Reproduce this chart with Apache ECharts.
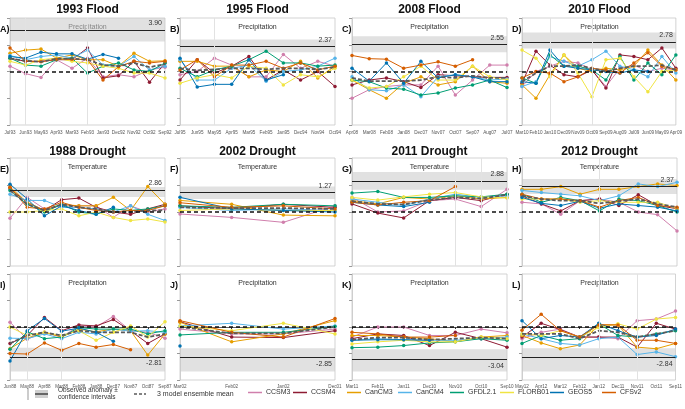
<!DOCTYPE html>
<html>
<head>
<meta charset="utf-8">
<script src="https://cdn.jsdelivr.net/npm/echarts@6/dist/echarts.min.js"></script>
<style>
  html, body { margin: 0; padding: 0; background: #fff; }
  #chart { width: 685px; height: 409px; }
</style>
</head>
<body>
<div id="chart"></div>
<script>
var models = ['CCSM3', 'CCSM4', 'CanCM3', 'CanCM4', 'GFDL2.1', 'FLORB01', 'GEOS5', 'CFSv2'];
var meanName = '3 model ensemble mean';

var titles = ['1993 Flood', '1995 Flood', '2008 Flood', '2010 Flood',
              '1988 Drought', '2002 Drought', '2011 Drought', '2012 Drought'];
var panelLetters = ['A)', 'B)', 'C)', 'D)', 'E)', 'F)', 'G)', 'H)', 'I)', 'J)', 'K)', 'L)'];
var variables = ['Precipitation', 'Precipitation', 'Precipitation', 'Precipitation',
                 'Temperature', 'Temperature', 'Temperature', 'Temperature',
                 'Precipitation', 'Precipitation', 'Precipitation', 'Precipitation'];

// x categories (lead months)
var catA = ['Jul93', 'Jun93', 'May93', 'Apr93', 'Mar93', 'Feb93', 'Jan93', 'Dec92', 'Nov92', 'Oct92', 'Sep92'];
var catB = ['Jul95', 'Jun95', 'May95', 'Apr95', 'Mar95', 'Feb95', 'Jan95', 'Dec94', 'Nov94', 'Oct94'];
var catC = ['Apr08', 'Mar08', 'Feb08', 'Jan08', 'Dec07', 'Nov07', 'Oct07', 'Sep07', 'Aug07', 'Jul07'];
var catD = ['Mar10', 'Feb10', 'Jan10', 'Dec09', 'Nov09', 'Oct09', 'Sep09', 'Aug09', 'Jul09', 'Jun09', 'May09', 'Apr09'];
var cat1988 = ['Jun88', 'May88', 'Apr88', 'Mar88', 'Feb88', 'Jan88', 'Dec87', 'Nov87', 'Oct87', 'Sep87'];
var cat2002 = ['Mar02', 'Feb02', 'Jan02', 'Dec01'];
var cat2011 = ['Mar11', 'Feb11', 'Jan11', 'Dec10', 'Nov10', 'Oct10', 'Sep10'];
var cat2012 = ['May12', 'Apr12', 'Mar12', 'Feb12', 'Jan12', 'Dec11', 'Nov11', 'Oct11', 'Sep11'];

// rows: CCSM3, CCSM4, CanCM3, CanCM4, GFDL2.1, FLORB01, GEOS5, CFSv2, ensemble mean
var panelA = [
  [0.5, -0.2, -0.55, 1.1, 0.3, 1.25, -0.5, -0.3, -0.5, 0.15, 0.4],
  [1.25, 0.95, 0.95, 1.1, 1.1, 2.2, -0.6, -0.4, 0.95, -1.0, 0.8],
  [1.7, 2.0, 2.1, 1.25, 1.55, 1.1, 1.1, 0.5, 1.7, 0.95, 1.0],
  [1.5, 1.1, 1.4, 1.55, 1.25, 2.0, 0.6, 0.5, 1.4, 0.15, 0.5],
  [1.25, 0.6, 0.5, 1.1, 1.25, -0.15, 0.5, 0.8, 0.15, 0.0, 0.8],
  [0.95, 0.6, 1.1, 1.25, 0.95, 0.8, 0.5, 0.3, -0.15, -0.15, -0.6],
  [1.4, 1.25, 1.8, 1.65, 1.65, 1.15, 1.6, 1.25, null, null, null],
  [2.2, 1.0, 0.9, 1.15, 1.15, 1.1, -0.8, 0.45, 0.95, 0.8, 0.95],
  [1.2, 1.0, 0.9, 1.2, 1.2, 1.1, 0.6, 0.5, 0.8, 0.4, 0.7]
];
var panelB = [
  [-0.3, 0.0, 1.25, 0.6, -0.5, -0.5, 1.6, 0.3, 0.95, 0.5],
  [-0.8, 1.1, -0.15, 0.5, 1.4, -0.8, 0.15, -0.8, 0.0, -1.4],
  [0.95, 0.95, 0.5, 0.5, -0.5, 0.15, 0.0, 0.95, -0.6, 0.5],
  [1.1, -0.8, -0.8, 0.3, 0.6, -0.9, 0.0, 0.15, 0.5, 1.25],
  [0.3, -0.5, 0.15, 0.5, 1.1, 1.9, 0.8, 0.8, 0.5, 0.6],
  [-1.1, -0.6, -0.3, -0.6, 0.5, 0.3, -1.25, -0.3, -0.5, 0.3],
  [1.25, -1.45, -1.2, -1.2, 1.1, -0.8, -0.3, null, null, null],
  [0.15, 1.1, -0.5, 0.6, 0.6, 0.95, 0.3, 0.8, 0.15, 0.5],
  [0.3, 0.1, 0.2, 0.3, 0.3, 0.2, 0.3, 0.3, 0.2, 0.4]
];
var panelC = [
  [-2.5, -1.7, -1.4, -1.25, -1.25, 0.5, -2.2, -0.8, 0.6, 0.6],
  [-1.25, -0.8, -0.6, -0.95, -1.5, -0.3, -0.4, -0.5, -0.55, -0.55],
  [-0.8, -1.7, -2.5, -1.1, -0.5, -1.25, -0.95, 0.5, -0.95, -1.1],
  [-0.5, -1.7, -1.8, -1.25, -2.35, -0.5, -0.3, -0.5, -0.8, -0.7],
  [-0.8, -0.95, -1.55, -1.65, -2.2, -2.0, -1.55, -1.25, -0.8, -1.5],
  [-0.8, -1.55, -1.4, -0.5, 0.5, -0.8, -0.8, 0.5, -0.5, -0.8],
  [0.3, -0.9, 0.8, -1.1, 0.95, -0.6, -0.3, -0.5, -0.95, -0.95],
  [1.5, 1.2, 1.15, 0.3, 0.6, 0.9, 0.5, 1.1, null, null],
  [-0.6, -0.9, -0.9, -0.9, -0.8, -0.5, -0.6, -0.4, -0.6, -0.6]
];
var panelD = [
  [-1.4, 0.0, 0.5, 0.95, 0.8, 0.15, -1.4, 0.3, 0.6, 0.0, 0.3, 0.15],
  [-1.1, 1.9, 0.6, -0.3, -0.5, 0.15, -1.55, 1.55, 1.4, 1.1, 2.2, 0.3],
  [-1.25, -2.5, -0.3, 1.55, 0.3, 0.0, 0.3, 0.15, 0.5, 2.0, 0.6, -0.8],
  [-1.4, -0.95, 1.4, 0.95, 0.5, 1.1, 1.9, 0.5, 0.15, -0.5, 1.4, -0.15],
  [-0.6, -1.1, 1.55, 0.5, 0.5, 0.15, -0.8, 1.4, -0.8, 0.8, -0.3, 1.55],
  [2.0, 1.25, -0.5, 1.55, -0.15, -2.35, 1.1, 1.25, -0.5, -1.9, 0.0, 0.15],
  [-0.95, -1.1, 2.0, 0.5, 0.3, 0.15, 0.0, -0.15, 0.15, 0.0, null, null],
  [-0.6, 0.0, -0.15, -0.95, -0.5, 0.3, 0.15, -0.15, 0.8, 1.75, 0.5, 0.15],
  [-0.95, -0.15, 0.5, 0.5, 0.6, 0.3, 0.0, 0.3, 0.5, 0.5, 0.6, 0.15]
];
var panelE = [
  [-0.8, 1.9, 0.4, 0.8, 0.8, 0.8, -0.7, 0.8, 0.0, 0.4],
  [3.0, 1.25, 0.2, 1.6, 1.8, 0.6, 0.0, -0.3, 0.4, 1.0],
  [3.2, 1.25, 0.2, 1.0, 0.8, 0.8, 1.9, 0.2, 3.3, 1.0],
  [2.3, 1.5, 1.5, 0.6, 0.6, 0.4, 0.0, 0.8, -0.3, -1.1],
  [2.8, 1.0, 0.0, 1.0, 0.0, -0.3, 0.4, 0.2, 0.4, 0.8],
  [0.0, 0.0, 0.2, 0.4, -0.5, 0.0, -0.7, -1.1, -0.9, -1.3],
  [3.6, 1.7, -0.5, 0.8, 0.2, -0.3, 0.6, null, null, null],
  [3.2, 0.6, 0.4, 1.25, 0.6, 0.2, 0.0, 0.2, 0.2, 0.8],
  [2.8, 1.0, 0.2, 1.0, 0.6, 0.4, 0.0, 0.0, 0.2, 0.2]
];
var panelF = [
  [-0.13, -0.35, -0.67, 0.4],
  [0.4, 0.2, 0.5, 0.3],
  [0.75, 0.5, -0.2, -0.25],
  [0.3, 0.1, 0.2, 0.1],
  [0.4, 0.3, 0.5, 0.4],
  [0.1, 0.2, 0.1, 0.1],
  [0.95, 0.2, 0.1, 0.0],
  [0.6, 0.3, 0.4, 0.2],
  [0.3, 0.25, 0.25, 0.2]
];
var panelG = [
  [1.35, 0.0, 0.1, 1.05, 1.2, 0.5, 2.1],
  [0.75, -0.1, -0.55, 1.05, 1.35, 1.05, 1.65],
  [1.05, 0.75, 1.35, 1.2, 1.5, 1.2, 1.35],
  [1.2, 0.9, 0.6, 1.2, 1.65, 1.35, 1.5],
  [1.75, 1.9, 1.35, 1.35, 1.5, 1.4, 1.65],
  [1.35, 1.1, 1.4, 1.65, 1.8, 1.4, 1.3],
  [0.9, 0.65, 0.5, 0.9, null, null, null],
  [0.9, 0.65, 0.9, 1.05, 2.35, null, null],
  [1.0, 0.75, 0.7, 1.1, 1.35, 1.25, 1.6]
];
var panelH = [
  [0.9, 0.75, -0.2, 1.05, 1.2, 0.9, 0.0, -0.25, -1.75],
  [1.5, 0.75, 0.1, 1.05, 1.2, 0.6, 1.6, 0.6, 0.3],
  [2.1, 2.1, 2.35, 1.65, 2.1, 2.1, 2.35, 2.6, 2.45],
  [2.0, 1.8, 1.65, 1.5, 1.05, 1.5, 2.6, 2.35, 2.75],
  [1.65, 0.9, 1.35, 1.05, 0.1, 1.2, 1.05, 0.6, 0.0],
  [1.2, 1.2, 1.2, 0.9, 1.05, 0.9, 0.9, 0.9, 0.3],
  [1.35, 0.8, 0.6, 1.0, 0.35, 0.75, 0.6, 0.45, 0.1],
  [1.65, 1.2, 1.2, 1.05, 0.45, 1.05, 1.35, 0.6, 0.45],
  [1.5, 1.2, 1.05, 1.05, 0.8, 1.0, 1.2, 0.75, 0.45]
];
var panelI = [
  [0.45, -1.15, -0.5, -0.95, 0.1, 0.0, 1.0, -0.35, -0.5, -1.05],
  [-1.55, -0.8, 0.9, -0.35, 0.2, 0.1, 0.7, -0.35, -1.55, -0.65],
  [-2.05, -1.05, -0.5, -0.95, -0.2, -0.45, -0.2, -0.35, -2.65, -0.65],
  [-1.05, -1.1, -0.65, -1.1, -0.5, -0.65, -0.2, -0.4, -0.35, -0.5],
  [-2.1, -0.45, -1.1, -0.95, -0.05, -0.2, -0.2, -0.2, -0.65, -0.35],
  [0.0, -0.8, -0.5, -0.8, -0.35, -1.25, -0.5, 0.1, -0.95, 0.5],
  [-3.2, -0.35, 0.8, -0.4, -0.1, -0.5, -1.35, null, null, null],
  [-2.5, -2.55, -1.5, -2.2, -1.55, -1.9, -1.65, -2.15, null, null],
  [-1.55, -0.8, -0.5, -0.8, -0.35, -0.5, -0.5, -0.5, -0.95, -0.65]
];
var panelJ = [
  [-0.2, -0.65, -0.65, -0.2],
  [0.5, -0.95, -1.0, -0.35],
  [0.45, -1.4, -0.65, 0.6],
  [0.1, 0.35, -0.2, 0.1],
  [-0.75, -0.5, -0.5, 0.05],
  [0.1, -0.35, 0.35, -0.65],
  [-1.8, null, null, null],
  [0.6, -0.5, -0.95, 0.8],
  [0.0, -0.6, -0.6, 0.0]
];
var panelK = [
  [-0.95, 0.0, 0.0, -0.8, -0.8, -0.2, -0.55],
  [-1.1, -0.65, -0.8, -1.75, -0.5, -1.1, -1.9],
  [-0.8, -0.8, -0.95, -1.1, -1.4, -0.95, -0.8],
  [-1.25, -1.1, -1.2, -1.25, -1.25, -1.1, -0.95],
  [-1.95, -1.9, -1.75, -1.5, -1.4, -1.1, -1.25],
  [-1.6, -1.4, -1.25, -1.4, -1.4, -0.95, -1.1],
  [-1.25, -1.2, -1.2, -1.25, null, null, null],
  [-0.5, -0.65, -0.95, -0.95, -0.8, null, null],
  [-1.2, -1.0, -1.0, -1.2, -1.1, -1.0, -1.1]
];
var panelL = [
  [-1.1, -0.5, -0.2, -0.95, -0.95, -1.1, 0.6, 0.75, 1.5],
  [-0.95, 0.35, -0.25, -0.95, -0.95, -0.95, -1.9, 0.35, -0.2],
  [-0.8, -1.5, -2.05, -1.7, 0.2, 0.2, -1.9, -2.05, -1.55],
  [-0.65, -1.1, -1.55, -1.7, -1.1, -0.95, -2.6, -2.35, -2.8],
  [-1.55, -0.8, -1.25, -1.1, 0.3, -0.8, -0.95, -0.65, -0.35],
  [-0.65, -0.8, -0.35, -0.95, -0.05, 0.3, -0.2, 0.75, 0.9],
  [0.6, -1.1, -0.8, -0.95, 0.35, -0.35, -0.95, -0.8, -0.2],
  [-0.3, 1.2, -0.35, -0.95, 0.2, 0.2, -1.25, -1.25, -1.55],
  [-0.65, -0.65, -0.65, -1.1, -0.35, -0.5, -0.95, -0.65, -0.35]
];

// observed anomaly and its confidence interval, panels A..L
var obsValue = [3.90, 2.37, 2.55, 2.78, 2.86, 1.27, 2.88, 2.37, -2.81, -2.85, -3.04, -2.84];
var obsLow = [2.8, 1.8, 1.8, 2.15, 1.95, 0.85, 2.06, 1.67, -4.2, -4.2, -4.2, -4.2];
var obsHigh = [5.0, 3.0, 3.3, 3.65, 3.25, 1.65, 3.7, 3.05, -1.95, -2.0, -2.1, -2.0];

var panels = [panelA, panelB, panelC, panelD, panelE, panelF, panelG, panelH, panelI, panelJ, panelK, panelL];
var cats = [catA, catB, catC, catD, cat1988, cat2002, cat2011, cat2012, cat1988, cat2002, cat2011, cat2012];

// layout / style
var colors = ['#d07fac', '#8e1b33', '#e69f00', '#56b4e9', '#009e73', '#f0e442', '#0072b2', '#d55e00'];
var colLeft = [10, 180, 352, 522];
var colWidth = 155;
var rowTop = [18, 158, 274];
var rowHeight = [107, 108, 106];
var yRange = [5, 5, 5, 5, 7, 3.5, 5, 5, 5, 5, 5, 5];
var vLines = [[1, 5], [2], [], [2, 5], [1, 3], [], [4, 5, 6], [4], [1, 3], [], [], [4, 6]];
var font = 'Liberation Sans, Arial, sans-serif';

var chart = echarts.init(document.getElementById('chart'));

var grids = [], xAxes = [], yAxes = [], series = [], graphics = [];

panels.forEach(function(rows, i) {
  var row = Math.floor(i / 4);
  var col = i % 4;
  var r = yRange[i];

  grids.push({
    left: colLeft[col], top: rowTop[row], width: colWidth, height: rowHeight[row],
    show: true, borderColor: '#c8c8c8', borderWidth: 0.8, containLabel: false
  });
  xAxes.push({
    type: 'category', gridIndex: i, data: cats[i], boundaryGap: false,
    axisLabel: { show: row !== 1, fontSize: 4.6, interval: 0, color: '#555', margin: row === 0 ? 5 : 4, fontFamily: font },
    axisTick: { show: row === 2, length: 2, lineStyle: { color: '#333' } },
    axisLine: { show: row === 2, lineStyle: { color: '#333', width: 0.8 } },
    splitLine: { show: false }
  });
  yAxes.push({
    type: 'value', gridIndex: i, min: -r, max: r, interval: r / 2,
    axisLabel: { show: false },
    axisTick: { show: true, length: 3, lineStyle: { color: '#999' } },
    axisLine: { show: true, lineStyle: { color: '#c8c8c8', width: 0.8 } },
    splitLine: { show: false }
  });

  var marks = [
    { yAxis: 0, lineStyle: { type: [4, 3], color: '#111', width: 1.6 }, label: { show: false } },
    {
      yAxis: obsValue[i], lineStyle: { type: 'solid', color: '#222', width: 1.2 },
      label: {
        show: true, formatter: obsValue[i].toFixed(2),
        position: obsValue[i] > 0 ? 'insideEndTop' : 'insideEndBottom',
        fontSize: 7, color: '#333', fontFamily: font, distance: 3
      }
    }
  ];
  vLines[i].forEach(function(idx) {
    marks.push({ xAxis: idx, lineStyle: { type: 'solid', color: '#e2e2e2', width: 1 }, label: { show: false } });
  });

  series.push({
    type: 'line', xAxisIndex: i, yAxisIndex: i, data: [], silent: true,
    markArea: {
      silent: true,
      itemStyle: { color: 'rgba(200,200,200,0.55)' },
      data: [[{ yAxis: obsLow[i] }, { yAxis: obsHigh[i] }]]
    },
    markLine: { silent: true, symbol: 'none', animation: false, data: marks },
    z: 1
  });

  models.forEach(function(name, m) {
    series.push({
      type: 'line', name: name, xAxisIndex: i, yAxisIndex: i, data: rows[m],
      symbol: 'circle', symbolSize: 3.5, showSymbol: true,
      lineStyle: { width: 1, color: colors[m] },
      itemStyle: { color: colors[m] },
      connectNulls: false, animation: false, z: 3
    });
  });
  series.push({
    type: 'line', name: meanName, xAxisIndex: i, yAxisIndex: i, data: rows[8],
    symbol: 'none', lineStyle: { width: 1.8, color: '#5a5a5a', type: [4, 2] },
    animation: false, z: 4
  });

  // subtitle and panel letter
  graphics.push({
    type: 'text', x: colLeft[col] + colWidth / 2, y: rowTop[row] + 9,
    style: { text: variables[i], font: '7px ' + font, fill: '#333', textAlign: 'center', textVerticalAlign: 'middle' }
  });
  graphics.push({
    type: 'text', x: col === 0 ? 0 : colLeft[col] - 10, y: rowTop[row] + 12,
    style: { text: panelLetters[i], font: 'bold 9px ' + font, fill: '#111', textAlign: 'left', textVerticalAlign: 'middle' }
  });
});

titles.forEach(function(t, k) {
  var row = Math.floor(k / 4);
  var col = k % 4;
  graphics.push({
    type: 'text', x: colLeft[col] + colWidth / 2, y: row === 0 ? 10 : 152,
    style: { text: t, font: 'bold 12px ' + font, fill: '#111', textAlign: 'center', textVerticalAlign: 'middle' }
  });
});

// legend: observed band and ensemble mean drawn by hand, models via legend components
graphics.push(
  { type: 'line', shape: { x1: 28, y1: 388, x2: 28, y2: 400 }, style: { stroke: '#999', lineWidth: 1 } },
  { type: 'rect', shape: { x: 35, y: 390, width: 13, height: 8 }, style: { fill: '#d0d0d0' } },
  { type: 'line', shape: { x1: 35, y1: 394, x2: 48, y2: 394 }, style: { stroke: '#222', lineWidth: 1.2 } },
  { type: 'text', x: 58, y: 394, style: { text: 'Observed anomaly \u00b1\nconfidence intervals', font: '6.5px ' + font, fill: '#333', textVerticalAlign: 'middle', lineHeight: 7 } },
  { type: 'line', shape: { x1: 134, y1: 394, x2: 146, y2: 394 }, style: { stroke: '#5a5a5a', lineWidth: 1.6, lineDash: [3, 2] } },
  { type: 'text', x: 157, y: 394, style: { text: meanName, font: '7px ' + font, fill: '#333', textVerticalAlign: 'middle' } }
);

var legendLeft = [248, 293, 347, 398, 450, 500, 550, 602];
var legends = models.map(function(name, m) {
  return {
    data: [name], left: legendLeft[m], top: 389, icon: 'rect',
    itemWidth: 14, itemHeight: 1.5, itemGap: 0, padding: 0, selectedMode: false,
    textStyle: { fontSize: 7, color: '#333', fontFamily: font, padding: [0, 0, 0, -1] }
  };
});

chart.setOption({
  animation: false,
  textStyle: { fontFamily: font },
  grid: grids,
  xAxis: xAxes,
  yAxis: yAxes,
  legend: legends,
  series: series,
  graphic: graphics
});
</script>
</body>
</html>
